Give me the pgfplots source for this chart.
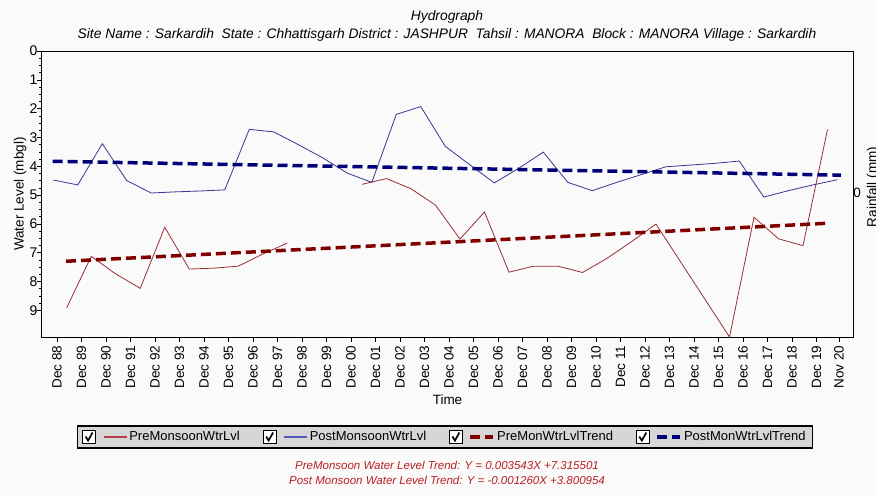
\documentclass[border=0pt]{standalone}
\usepackage{fontspec}
\setmainfont{Liberation Sans}
\usepackage{pgfplots}
\pgfplotsset{compat=1.18}
\definecolor{preC}{RGB}{155,45,55}
\definecolor{postC}{RGB}{55,55,145}
\definecolor{preL}{RGB}{185,60,75}
\definecolor{postL}{RGB}{80,90,185}
\definecolor{preT}{RGB}{128,0,0}
\definecolor{postT}{RGB}{0,0,120}
\definecolor{eqC}{RGB}{185,30,35}
\definecolor{legFill}{RGB}{214,214,214}
\definecolor{bg}{RGB}{250,250,250}
\begin{document}
\begin{tikzpicture}
\path[use as bounding box] (-42pt,-159pt) rectangle (834pt,337pt);
\fill[bg] (-42pt,-159pt) rectangle (834pt,337pt);
\begin{axis}[
  scale only axis, width=811pt, height=286pt,
  xmin=-0.61, xmax=32.49, ymin=0, ymax=9.93, y dir=reverse,
  /pgf/number format/assume math mode=true,
  axis line style={black, line width=1pt},
  tick align=outside, tick pos=left,
  major tick length=5pt, minor tick length=2.5pt,
  every tick/.style={black, line width=0.6pt},
  xtick={0,1,2,3,4,5,6,7,8,9,10,11,12,13,14,15,16,17,18,19,20,21,22,23,24,25,26,27,28,29,30,31,31.917},
  xticklabels={Dec 88,Dec 89,Dec 90,Dec 91,Dec 92,Dec 93,Dec 94,Dec 95,Dec 96,Dec 97,Dec 98,Dec 99,Dec 00,Dec 01,Dec 02,Dec 03,Dec 04,Dec 05,Dec 06,Dec 07,Dec 08,Dec 09,Dec 10,Dec 11,Dec 12,Dec 13,Dec 14,Dec 15,Dec 16,Dec 17,Dec 18,Dec 19,Nov 20},
  minor x tick num=2,
  ytick={0,1,2,3,4,5,6,7,8,9},
  minor y tick num=3,
  x tick label style={rotate=90, anchor=east, font=\fontsize{13.5}{15}\selectfont},
  y tick label style={font=\fontsize{14}{16}\selectfont, xshift=4pt},
  xlabel={Time}, ylabel={Water Level (mbgl)},
  xlabel style={at={(axis description cs:0.5,0)}, anchor=center, yshift=-63pt, font=\fontsize{13.5}{15}\selectfont},
  ylabel style={at={(axis description cs:-0.0271,0.5)}, anchor=center, font=\fontsize{13.5}{15}\selectfont},
  unbounded coords=jump,
  legend columns=4,
  legend cell align=left,
  legend image code/.code={
    \draw[draw=black, solid, line width=0.6pt, fill=white] (0pt,-6.5pt) rectangle (13pt,6.5pt);
    \draw[draw=black, solid, line width=1.7pt] (3pt,0.5pt) -- (5.5pt,-3.5pt) -- (10pt,4.5pt);
    \draw[#1] (21pt,0pt) -- (44pt,0pt);
  },
  legend style={at={(0.4969,-0.3497)}, anchor=center, draw, line width=1.5pt,
    fill=legFill, font=\fontsize{13}{15}\selectfont, inner xsep=5pt, inner ysep=3.5pt,
    /tikz/every even column/.append style={column sep=21pt}},
]
\addplot[draw=preC, line width=0.8pt, legend image post style={draw=preL, line width=1.4pt}] coordinates {
 (0.4,8.91) (1.4,7.13) (2.4,7.74) (3.4,8.24) (4.4,6.12) (5.4,7.57) (6.4,7.54) (7.4,7.47) (8.4,7.05) (9.4,6.67)
 (11,nan)
 (12.45,4.63) (13.45,4.43) (14.45,4.78) (15.45,5.35) (16.45,6.53) (17.45,5.59) (18.45,7.68) (19.45,7.47)
 (20.45,7.47) (21.45,7.69) (22.45,7.20) (23.45,6.62) (24.45,6.01) (27.45,9.93) (28.45,5.77) (29.45,6.52)
 (30.45,6.76) (31.45,2.72)
};
\addlegendentry{PreMonsoonWtrLvl}
\addplot[draw=postC, line width=0.8pt, legend image post style={draw=postL, line width=1.4pt}] coordinates {
 (-0.15,4.48) (0.85,4.65) (1.85,3.22) (2.85,4.50) (3.85,4.93) (4.85,4.89) (5.85,4.86) (6.85,4.82)
 (7.85,2.72) (8.85,2.81) (9.85,3.25) (10.85,3.71) (11.85,4.24) (12.85,4.56) (13.85,2.20) (14.85,1.93)
 (15.85,3.31) (16.85,3.95) (17.85,4.58) (18.85,4.07) (19.85,3.51) (20.85,4.56) (21.85,4.85) (22.85,4.56)
 (23.85,4.29) (24.85,4.02) (25.85,3.96) (26.85,3.90) (27.85,3.82) (28.85,5.07) (29.85,4.85) (30.85,4.65)
 (31.85,4.47)
};
\addlegendentry{PostMonsoonWtrLvl}
\addplot[draw=preT, line width=3.5pt, dash pattern=on 10pt off 5pt] coordinates {(0.37,7.30) (31.47,5.98)};
\addlegendentry{PreMonWtrLvlTrend}
\addplot[draw=postT, line width=3.5pt, dash pattern=on 10pt off 5pt] coordinates {(-0.18,3.83) (32.0,4.31)};
\addlegendentry{PostMonWtrLvlTrend}
\end{axis}
\node[font=\fontsize{13.8}{15}\selectfont\itshape] at (405pt,320pt) {Hydrograph};
\node[font=\fontsize{13.8}{15}\selectfont\itshape] at (405pt,302pt) {Site Name : Sarkardih\ \ State : Chhattisgarh District : JASHPUR\ \ Tahsil : MANORA\ \ Block : MANORA Village : Sarkardih};
\node[font=\fontsize{13.5}{15}\selectfont] at (815pt,144pt) {0};
\node[font=\fontsize{13.5}{15}\selectfont, rotate=90] at (831pt,150pt) {Rainfall (mm)};
\node[font=\fontsize{11.5}{12}\selectfont\itshape, text=eqC] at (405pt,-128pt) {PreMonsoon Water Level Trend: Y = 0.003543X +7.315501};
\node[font=\fontsize{11.5}{12}\selectfont\itshape, text=eqC] at (405pt,-143pt) {Post Monsoon Water Level Trend: Y = -0.001260X +3.800954};
\end{tikzpicture}
\end{document}
